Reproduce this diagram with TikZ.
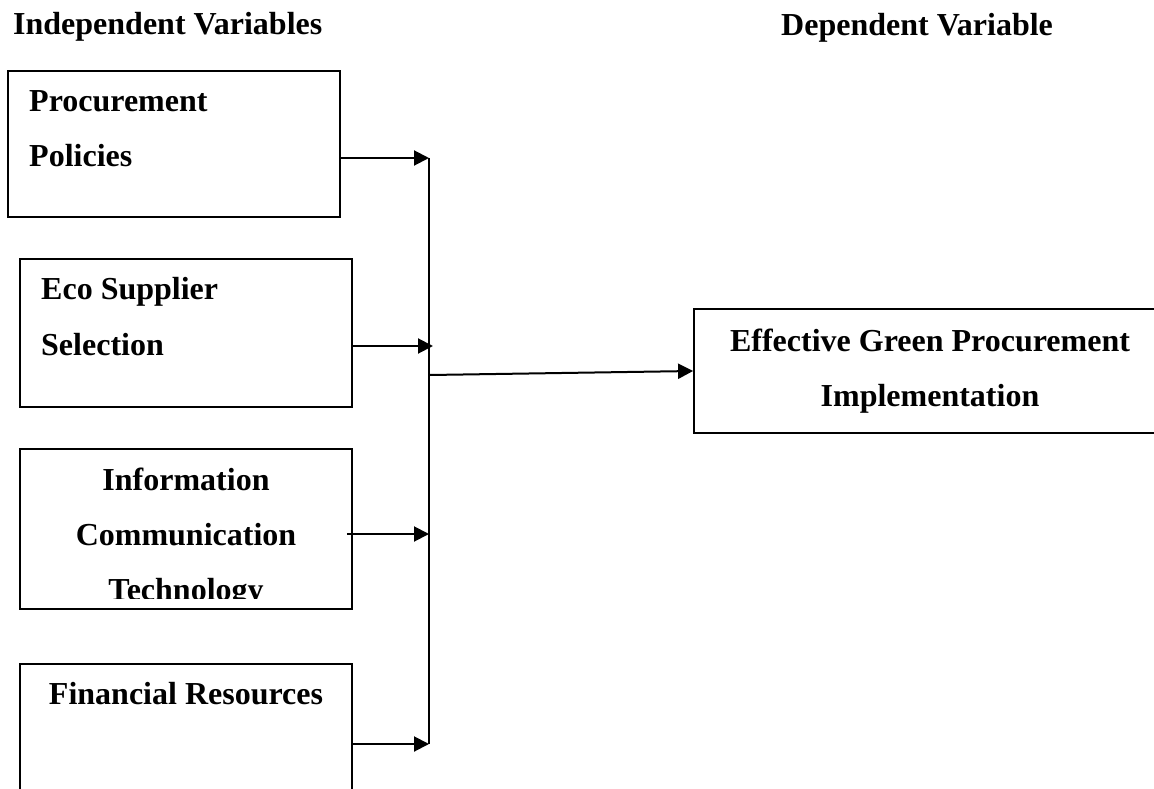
\documentclass[tikz,border=0pt]{standalone}
\usepackage{fontspec}
\setmainfont{Liberation Serif}
\usetikzlibrary{arrows.meta}

\tikzset{
    varbox/.style={draw, line width=1.8pt, inner sep=0pt},
    lbl/.style={font=\bfseries\fontsize{32}{38}\selectfont, inner sep=0pt},
    arr/.style={line width=2pt, -{Triangle[length=15pt, width=15pt]}}
}

\begin{document}
\begin{tikzpicture}[x=1pt, y=-1pt]
        \useasboundingbox (0, 0) rectangle (1154, 789);

        % Headings
        \node[lbl, anchor=base west] (indep) at (13, 35) {Independent Variables};
        \node[lbl, anchor=base west] (dep) at (781, 36) {Dependent Variable};

        % Draw the independent variable boxes
        \node[varbox, minimum width=332pt, minimum height=146pt] (pol) at (174, 144) {};
        \node[varbox, minimum width=332pt, minimum height=148pt] (eco) at (186, 333) {};
        \node[varbox, minimum width=332pt, minimum height=160pt] (ict) at (186, 529) {};
        \node[varbox, minimum width=332pt, minimum height=150pt] (fin) at (186, 739) {};

        % Draw the dependent variable box
        \node[varbox, minimum width=468pt, minimum height=124pt] (tgt) at (928, 371) {};

        % Label the boxes
        \node[lbl, anchor=base west] (pol1) at (29, 112) {Procurement};
        \node[lbl, anchor=base west] (pol2) at (29, 167) {Policies};
        \node[lbl, anchor=base west] (eco1) at (41, 299) {Eco Supplier};
        \node[lbl, anchor=base west] (eco2) at (41, 355) {Selection};
        \node[lbl, anchor=base] (ict1) at (186, 490) {Information};
        \node[lbl, anchor=base] (ict2) at (186, 545) {Communication};
        \begin{scope}
            \clip (20, 560) rectangle (352, 598);
            \node[lbl, anchor=base] (ict3) at (186, 600) {Technology};
        \end{scope}
        \node[lbl, anchor=base] (fin1) at (186, 704) {Financial Resources};
        \node[lbl, anchor=base] (tgt1) at (930, 351) {Effective Green Procurement};
        \node[lbl, anchor=base] (tgt2) at (930, 406) {Implementation};

        % Bus line and arrows
        \coordinate (j1) at (429, 158);
        \coordinate (j2) at (433, 346);
        \coordinate (j3) at (429, 534);
        \coordinate (j4) at (429, 744);
        \coordinate (hub) at (430, 375);
        \draw[line width=2pt] (j1) -- (j4);
        \draw[arr] (j1 -| pol.east) -- (j1);
        \draw[arr] (j2 -| eco.east) -- (j2);
        \draw[arr] ([xshift=-6pt]j3 -| ict.east) -- (j3);
        \draw[arr] (j4 -| fin.east) -- (j4);
        \draw[arr] (hub) -- (tgt.west);
    \end{tikzpicture}
\end{document}
